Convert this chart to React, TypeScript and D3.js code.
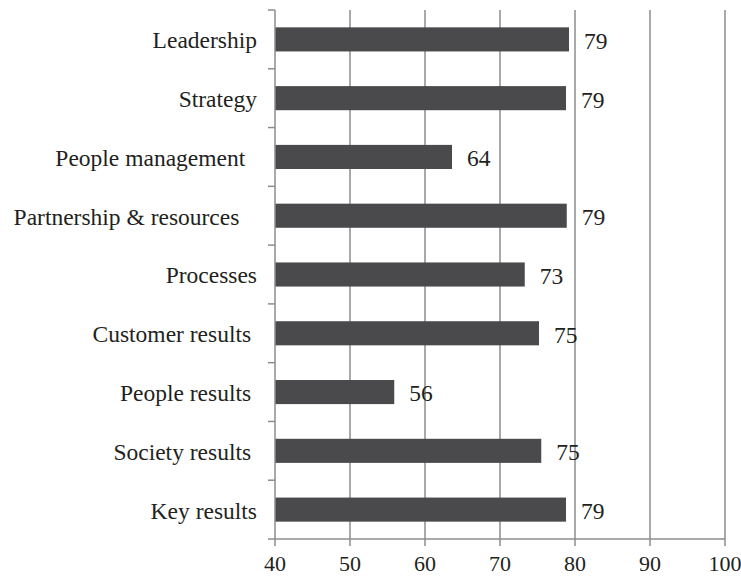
import React, { useMemo } from 'react';
import * as d3 from 'd3';

// category labels (trailing spaces kept as in the source sheet)
const categories = [
  'Leadership',
  'Strategy',
  'People management  ',
  'Partnership & resources   ',
  'Processes',
  'Customer results ',
  'People results ',
  'Society results ',
  'Key results',
];
const values = [79.2, 78.8, 63.6, 78.9, 73.3, 75.2, 55.9, 75.5, 78.8];
const valueLabels = ['79', '79', '64', '79', '73', '75', '56', '75', '79'];
const xTicks = [40, 50, 60, 70, 80, 90, 100];

const W = 741;
const H = 576;
const margin = { top: 10, right: 16, bottom: 37, left: 275 };
const FONT = '"Liberation Serif", "Times New Roman", serif';

const App: React.FC = () => {
  const x = useMemo(
    () => d3.scaleLinear().domain([40, 100]).range([margin.left, W - margin.right]),
    []
  );
  const y = useMemo(
    () =>
      d3
        .scaleBand<string>()
        .domain(categories)
        .range([margin.top, H - margin.bottom])
        .paddingInner(0.59)
        .paddingOuter(0.295),
    []
  );
  const step = y.step();
  const y0 = margin.top;
  const y1 = H - margin.bottom;
  const axisColor = '#8c8c8c';
  const textStyle: React.CSSProperties = { fontFamily: FONT, fontSize: 23.5, whiteSpace: 'pre' };
  const tickStyle: React.CSSProperties = { fontFamily: FONT, fontSize: 22 };

  return (
    <svg
      width={W}
      height={H}
      style={{ position: 'absolute', left: 0, top: 0, background: '#fff' }}
    >
      {/* vertical gridlines */}
      {xTicks.slice(1).map(t => (
        <line key={'g' + t} x1={x(t)} x2={x(t)} y1={y0} y2={y1} stroke={axisColor} strokeWidth={1.5} />
      ))}

      {/* bars */}
      {categories.map((c, i) => (
        <rect
          key={c}
          x={x(40)}
          y={y(c)}
          width={x(values[i]) - x(40)}
          height={y.bandwidth()}
          fill="#4a4a4c"
        />
      ))}

      {/* value labels */}
      {categories.map((c, i) => (
        <text
          key={'v' + c}
          x={x(values[i]) + 15}
          y={(y(c) ?? 0) + y.bandwidth() / 2}
          dy="0.4em"
          style={textStyle}
          fill="#231f20"
        >
          {valueLabels[i]}
        </text>
      ))}

      {/* y axis */}
      <line x1={x(40)} x2={x(40)} y1={y0} y2={y1} stroke={axisColor} strokeWidth={1.5} />
      {d3.range(categories.length + 1).map(i => (
        <line
          key={'yt' + i}
          x1={x(40) - 7}
          x2={x(40)}
          y1={y0 + i * step}
          y2={y0 + i * step}
          stroke={axisColor}
          strokeWidth={1.5}
        />
      ))}
      {categories.map(c => (
        <text
          key={'c' + c}
          x={x(40) - 18}
          y={(y(c) ?? 0) + y.bandwidth() / 2}
          dy="0.38em"
          textAnchor="end"
          style={textStyle}
          fill="#231f20"
        >
          {c}
        </text>
      ))}

      {/* x axis */}
      <line x1={x(40)} x2={x(100)} y1={y1} y2={y1} stroke={axisColor} strokeWidth={1.5} />
      {xTicks.map(t => (
        <g key={'xt' + t}>
          <line x1={x(t)} x2={x(t)} y1={y1} y2={y1 + 7} stroke={axisColor} strokeWidth={1.5} />
          <text x={x(t)} y={y1 + 32} textAnchor="middle" style={tickStyle} fill="#231f20">
            {t}
          </text>
        </g>
      ))}
    </svg>
  );
};

export default App;
